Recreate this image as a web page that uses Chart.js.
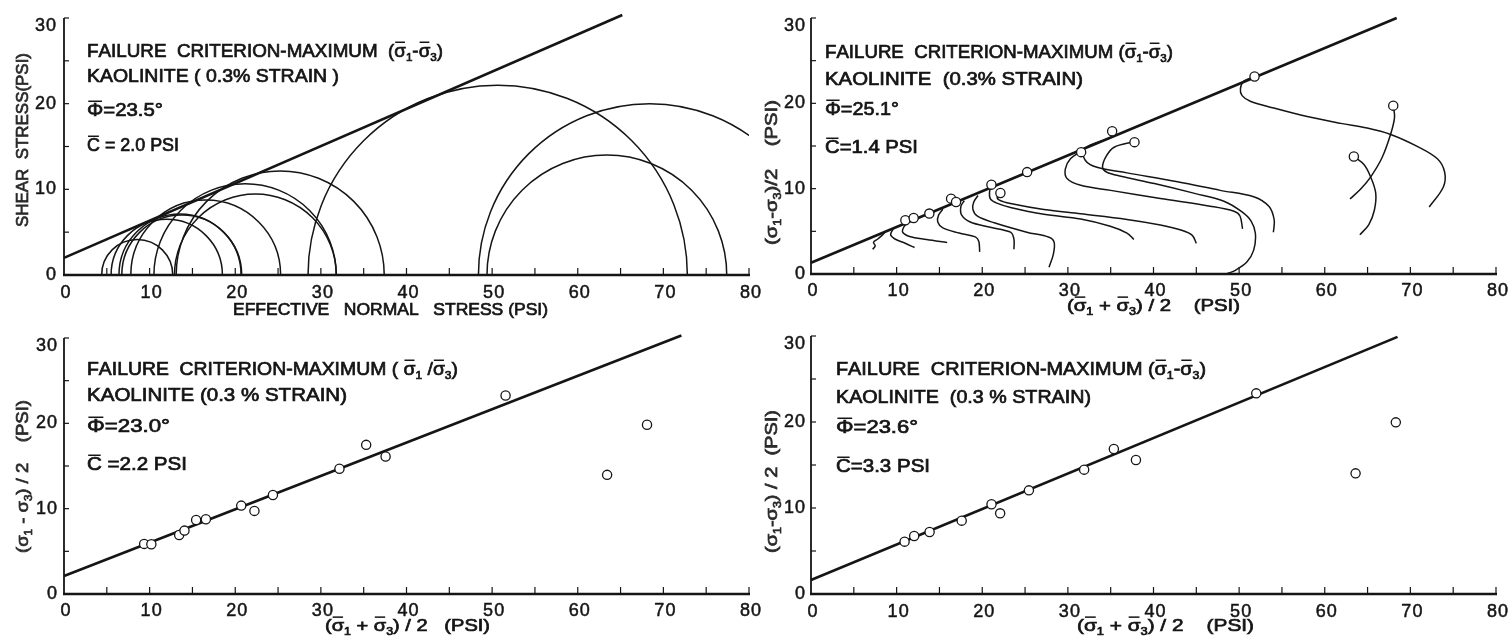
<!DOCTYPE html>
<html>
<head>
<meta charset="utf-8">
<script src="https://cdn.jsdelivr.net/npm/chart.js@4.4.1/dist/chart.umd.min.js"></script>
<style>
  html, body { margin: 0; padding: 0; background: #fff; overflow: hidden; }
  #sheet { position: relative; width: 1511px; height: 640px; overflow: hidden; }
  .panel { position: absolute; height: 320px; }
</style>
</head>
<body>
<div id="sheet">
  <div class="panel" style="left:0;top:0;width:780px"><canvas id="mohr"></canvas></div>
  <div class="panel" style="left:0;top:320px;width:780px"><canvas id="ratio"></canvas></div>
  <div class="panel" style="left:756px;top:0;width:755px"><canvas id="paths"></canvas></div>
  <div class="panel" style="left:756px;top:320px;width:755px"><canvas id="deviator"></canvas></div>
</div>
<script>
// ---- Mohr circles (effective normal stress vs shear stress) ----
const mohrCentres = [8.55, 12.0, 13.55, 13.75, 16.55, 21.15, 22.35, 25.25, 50.65, 63.4, 68.4];
const mohrRadii   = [4.15, 6.5, 7.13, 7.0, 8.75, 10.65, 9.45, 12.15, 22.15, 14.0, 20.0];
const mohrEnvelope = [[0, 2.0], [65.2, 30.35]];

// ---- stress paths, failure at maximum (s1-s3) ----
const pathFailP = [11.02, 11.99, 13.82, 16.36, 16.94, 21.07, 22.12, 25.24, 31.55, 35.17, 37.78, 51.8, 63.4, 68.0];
const pathFailQ = [6.30, 6.57, 7.08, 8.83, 8.44, 10.47, 9.49, 11.94, 14.28, 16.73, 15.45, 23.15, 13.77, 19.73];
const pathEnvelope = [[0, 1.32], [68.4, 30.0]];
const stressPaths = [
  [[7.2, 2.9], [7.5, 3.3], [7.3, 3.7], [7.8, 4.1], [8.6, 4.8]],
  [[12.1, 3.1], [11.0, 3.6], [9.8, 4.1], [9.3, 4.6], [9.6, 5.3]],
  [[15.9, 3.7], [13.5, 4.05], [11.5, 4.4], [10.7, 4.9], [10.9, 5.6], [11.4, 6.1]],
  [[19.7, 2.6], [19.6, 3.8], [19.2, 4.35], [17.3, 4.8], [15.4, 5.4], [14.8, 6.1], [14.9, 6.9], [15.4, 7.6]],
  [[23.7, 2.9], [23.7, 4.1], [23.3, 4.9], [20.8, 5.5], [18.6, 6.1], [17.6, 6.9], [17.5, 7.9], [17.9, 8.6]],
  [[27.8, 0.8], [28.3, 2.3], [28.4, 3.7], [27.8, 4.3], [25.2, 4.9], [21.4, 6.0], [19.4, 6.8], [18.9, 7.6], [19.0, 8.4], [19.5, 9.2]],
  [[21.05, 10.45], [20.85, 9.6], [20.95, 8.8], [21.7, 8.3], [23.3, 7.8], [27.2, 7.0], [31.5, 6.45], [34.95, 5.6], [36.9, 4.8], [37.7, 4.05]],
  [[22.1, 9.5], [21.75, 9.05], [22.0, 8.65], [23.3, 8.25], [27.2, 7.55], [31.5, 7.05], [36.9, 6.4], [40.8, 5.75], [43.2, 5.15], [44.5, 4.55], [45.0, 3.6]],
  [[31.5, 14.35], [30.3, 13.5], [29.7, 12.3], [29.9, 11.2], [31.5, 10.4], [35.0, 9.8], [40.8, 8.85], [46.6, 7.95], [49.4, 7.35], [50.1, 6.8], [50.4, 5.3]],
  [[34.8, 15.9], [31.9, 14.65], [32.05, 13.3], [33.4, 12.5], [36.9, 11.85], [42.8, 10.8], [47.8, 9.8], [51.7, 9.05], [53.5, 7.9], [54.1, 6.3], [54.0, 4.9]],
  [[37.7, 15.5], [35.4, 14.85], [34.45, 13.75], [34.05, 12.5], [34.5, 11.95], [36.2, 11.45], [40.1, 10.6], [44.8, 9.45], [48.3, 8.5], [50.3, 7.3], [51.4, 6.2], [51.9, 4.75], [51.7, 2.8], [50.9, 1.4], [49.5, 0.4], [48.6, 0.05]],
  [[51.8, 23.15], [50.55, 22.6], [50.15, 21.7], [50.35, 20.9], [51.3, 20.25], [54.05, 19.45], [57.95, 18.45], [61.85, 17.65], [64.95, 17.1], [67.7, 16.35], [70.8, 14.95], [73.15, 13.5], [74.0, 11.95], [73.85, 10.2], [72.2, 7.85]],
  [[68.0, 19.73], [68.15, 18.35], [67.7, 16.4], [66.7, 13.65], [65.35, 11.35], [64.2, 9.95], [62.95, 8.8]],
  [[63.4, 13.77], [64.6, 12.8], [65.35, 11.4], [65.95, 9.5], [65.8, 7.5], [65.15, 5.8], [64.1, 4.6]]
];

// ---- p-q points, failure at maximum (s1/s3) ----
const ratioP = [9.36, 10.2, 13.45, 14.07, 15.43, 16.57, 20.7, 22.24, 24.4, 32.17, 35.29, 37.56, 51.57, 63.43, 68.09];
const ratioQ = [5.87, 5.83, 6.92, 7.43, 8.68, 8.76, 10.36, 9.74, 11.6, 14.67, 17.48, 16.11, 23.27, 13.96, 19.83];
const ratioEnvelope = [[0, 2.1], [72.1, 30.3]];

// ---- p-q points, failure at maximum (s1-s3) ----
const deviatorP = [10.93, 12.05, 13.85, 17.6, 21.08, 22.09, 25.45, 31.9, 35.37, 37.95, 52.0, 63.6, 68.3];
const deviatorQ = [6.09, 6.74, 7.21, 8.53, 10.43, 9.38, 12.05, 14.46, 16.86, 15.58, 23.33, 14.03, 19.96];
const deviatorEnvelope = [[0, 1.63], [68.5, 29.9]];

const xTickLabels = [0, 10, 20, 30, 40, 50, 60, 70, 80];
const yTickLabels = [0, 10, 20, 30];

const INK = '#151515';
const FONT = '"Liberation Sans", "DejaVu Sans", sans-serif';

// '~' puts a bar over the next glyph, '_' drops the next glyph to a subscript
function drawRich(ctx, src, x, y, size, width, rotate) {
  const glyphs = [];
  for (let i = 0; i < src.length; i++) {
    let bar = false, sub = false;
    while (src[i] === '~' || src[i] === '_') {
      if (src[i] === '~') bar = true; else sub = true;
      i++;
    }
    glyphs.push({ ch: src[i], bar, sub });
  }
  let total = 0;
  glyphs.forEach(g => {
    g.size = g.sub ? size * 0.62 : size;
    ctx.font = `${g.size}px ${FONT}`;
    g.w = ctx.measureText(g.ch).width;
    total += g.w;
  });
  ctx.save();
  ctx.translate(x, y);
  if (rotate) ctx.rotate(-Math.PI / 2);
  ctx.scale(width ? width / total : 1, 1);
  ctx.textAlign = 'left';
  ctx.textBaseline = 'alphabetic';
  ctx.strokeStyle = ctx.fillStyle;
  ctx.lineWidth = 0.7;
  let cx = 0;
  glyphs.forEach(g => {
    ctx.font = `${g.size}px ${FONT}`;
    const dy = g.sub ? size * 0.24 : 0;
    ctx.fillText(g.ch, cx, dy);
    ctx.strokeText(g.ch, cx, dy);
    if (g.bar) ctx.fillRect(cx + g.w * 0.08, dy - size * 0.86, g.w * 0.84, Math.max(1.5, size * 0.08));
    cx += g.w;
  });
  ctx.restore();
}

const mohrCircles = {
  id: 'mohrCircles',
  beforeDatasetsDraw(chart, args, opts) {
    if (!opts.centres) return;
    const { ctx, chartArea: a, scales: { x, y } } = chart;
    ctx.save();
    ctx.beginPath();
    ctx.rect(a.left, a.top - 10, a.right - a.left, a.bottom - a.top + 10);
    ctx.clip();
    ctx.strokeStyle = INK;
    ctx.lineWidth = 1.5;
    opts.centres.forEach((c, i) => {
      const r = opts.radii[i];
      const cx = x.getPixelForValue(c);
      const cy = y.getPixelForValue(0);
      const rx = x.getPixelForValue(c + r) - cx;
      const ry = cy - y.getPixelForValue(r);
      ctx.beginPath();
      ctx.ellipse(cx, cy, rx, ry, 0, Math.PI, 2 * Math.PI);
      ctx.stroke();
    });
    ctx.restore();
  }
};

const paperAxes = {
  id: 'paperAxes',
  afterDraw(chart, args, opts) {
    if (!opts.notes) return;
    const { ctx, scales: { x, y } } = chart;
    const x0 = x.getPixelForValue(0), x80 = x.getPixelForValue(80);
    const y0 = y.getPixelForValue(0), y30 = y.getPixelForValue(30);
    ctx.save();
    ctx.strokeStyle = INK;
    ctx.fillStyle = INK;

    ctx.lineWidth = 2.4;
    ctx.beginPath(); ctx.moveTo(x0 - 1, y0); ctx.lineTo(x80 + 1, y0); ctx.stroke();
    ctx.lineWidth = 1.8;
    ctx.beginPath(); ctx.moveTo(x0, y0); ctx.lineTo(x0, y30); ctx.stroke();

    // short inward ticks every 5 units
    ctx.lineWidth = 1.2;
    for (let v = 5; v <= 80; v += 5) {
      const px = x.getPixelForValue(v);
      ctx.beginPath(); ctx.moveTo(px, y0); ctx.lineTo(px, y0 - 7); ctx.stroke();
    }
    for (let v = 5; v <= 30; v += 5) {
      const py = y.getPixelForValue(v);
      ctx.beginPath(); ctx.moveTo(x0, py); ctx.lineTo(x0 + 5, py); ctx.stroke();
    }

    ctx.font = `18px ${FONT}`;
    ctx.letterSpacing = '1px';
    ctx.lineWidth = 0.5;
    ctx.textAlign = 'center';
    ctx.textBaseline = 'alphabetic';
    xTickLabels.forEach(v => {
      const px = x.getPixelForValue(v) + 2;
      ctx.fillText(String(v), px, opts.xLabelBase);
      ctx.strokeText(String(v), px, opts.xLabelBase);
    });
    ctx.textAlign = 'right';
    ctx.textBaseline = 'middle';
    yTickLabels.forEach(v => {
      const py = Math.max(y.getPixelForValue(v), y30 + 8);
      ctx.fillText(String(v), opts.yLabelRight, py);
      ctx.strokeText(String(v), opts.yLabelRight, py);
    });
    ctx.letterSpacing = '0px';

    opts.notes.forEach(n => drawRich(ctx, n.text, n.x, n.y, 18, n.w, false));
    const xt = opts.xTitle;
    drawRich(ctx, xt.text, xt.x, xt.y, 17, xt.w, false);
    const yt = opts.yTitle;
    ctx.fillStyle = '#2a2a2a';
    drawRich(ctx, yt.text, yt.cx + 6, yt.bottom, 17, yt.bottom - yt.top, true);
    ctx.restore();
  }
};

Chart.register(mohrCircles, paperAxes);

const pairs = list => list.map(([x, y]) => ({ x, y }));
const points = (xs, ys) => xs.map((v, i) => ({ x: v, y: ys[i] }));

function envelopeSet(line) {
  return { data: pairs(line), showLine: true, borderColor: INK, borderWidth: 2.6, pointRadius: 0, clip: false };
}
function markerSet(xs, ys) {
  return {
    data: points(xs, ys), showLine: false, pointRadius: 4.6, pointHoverRadius: 4.6,
    pointBackgroundColor: '#fff', pointBorderColor: INK, pointBorderWidth: 1.3
  };
}
function pathSet(path) {
  return { data: pairs(path), showLine: true, tension: 0.35, borderColor: INK, borderWidth: 1.5, pointRadius: 0 };
}

function build(id, datasets, frame, extra) {
  new Chart(document.getElementById(id), {
    type: 'scatter',
    data: { datasets },
    options: {
      responsive: true,
      maintainAspectRatio: false,
      animation: false,
      events: [],
      layout: { padding: { left: 0, top: frame.top, right: frame.right, bottom: 0 } },
      scales: {
        x: {
          type: 'linear', min: 0, max: 80,
          ticks: { display: false }, grid: { display: false }, border: { display: false },
          afterFit: s => { s.height = 320 - frame.bottom; }
        },
        y: {
          type: 'linear', min: 0, max: 30,
          ticks: { display: false }, grid: { display: false }, border: { display: false },
          afterFit: s => { s.width = frame.left; }
        }
      },
      plugins: Object.assign({ legend: { display: false }, tooltip: { enabled: false } }, extra)
    }
  });
}

build('mohr', [envelopeSet(mohrEnvelope)],
  { left: 64, right: 31, top: 18, bottom: 275 },
  {
    mohrCircles: { centres: mohrCentres, radii: mohrRadii },
    paperAxes: {
      xLabelBase: 298, yLabelRight: 57,
      notes: [
        { text: 'FAILURE  CRITERION-MAXIMUM  (~σ_1-~σ_3)', x: 87, y: 57, w: 356 },
        { text: 'KAOLINITE ( 0.3% STRAIN )', x: 87, y: 82, w: 252 },
        { text: '~Φ=23.5°', x: 87, y: 116, w: 76 },
        { text: '~C = 2.0 PSI', x: 87, y: 151, w: 92 }
      ],
      xTitle: { text: 'EFFECTIVE   NORMAL   STRESS (PSI)', x: 233, y: 315, w: 315 },
      yTitle: { text: 'SHEAR  STRESS(PSI)', cx: 22, top: 53, bottom: 227 }
    }
  });

build('ratio', [markerSet(ratioP, ratioQ), envelopeSet(ratioEnvelope)],
  { left: 64, right: 31, top: 18, bottom: 274 },
  {
    paperAxes: {
      xLabelBase: 296, yLabelRight: 58,
      notes: [
        { text: 'FAILURE  CRITERION-MAXIMUM ( ~σ_1 /~σ_3)', x: 87, y: 55, w: 371 },
        { text: 'KAOLINITE (0.3 % STRAIN)', x: 87, y: 81, w: 260 },
        { text: '~Φ=23.0°', x: 87, y: 112, w: 83 },
        { text: '~C =2.2 PSI', x: 87, y: 150, w: 100 }
      ],
      xTitle: { text: '(~σ_1 + ~σ_3) / 2   (PSI)', x: 325, y: 311, w: 165 },
      yTitle: { text: '(σ_1 - σ_3) / 2    (PSI)', cx: 22, top: 80, bottom: 233 }
    }
  });

build('paths', [markerSet(pathFailP, pathFailQ), envelopeSet(pathEnvelope), ...stressPaths.map(pathSet)],
  { left: 55, right: 15, top: 18, bottom: 274 },
  {
    paperAxes: {
      xLabelBase: 296, yLabelRight: 50,
      notes: [
        { text: 'FAILURE  CRITERION-MAXIMUM (~σ_1-~σ_3)', x: 69, y: 58, w: 348 },
        { text: 'KAOLINITE  (0.3% STRAIN)', x: 69, y: 85, w: 258 },
        { text: '~Φ=25.1°', x: 69, y: 115, w: 74 },
        { text: '~C=1.4 PSI', x: 69, y: 153, w: 93 }
      ],
      xTitle: { text: '(~σ_1 + ~σ_3) / 2    (PSI)', x: 311, y: 311, w: 173 },
      yTitle: { text: '(σ_1-σ_3)/2    (PSI)', cx: 15, top: 100, bottom: 245 }
    }
  });

build('deviator', [markerSet(deviatorP, deviatorQ), envelopeSet(deviatorEnvelope)],
  { left: 55, right: 15, top: 16, bottom: 274 },
  {
    paperAxes: {
      xLabelBase: 297, yLabelRight: 50,
      notes: [
        { text: 'FAILURE  CRITERION-MAXIMUM (~σ_1-~σ_3)', x: 80, y: 55, w: 370 },
        { text: 'KAOLINITE  (0.3 % STRAIN)', x: 80, y: 83, w: 255 },
        { text: '~Φ=23.6°', x: 80, y: 113, w: 82 },
        { text: '~C=3.3 PSI', x: 80, y: 152, w: 94 }
      ],
      xTitle: { text: '(~σ_1 + ~σ_3) / 2    (PSI)', x: 321, y: 311, w: 177 },
      yTitle: { text: '(σ_1-σ_3) / 2  (PSI)', cx: 15, top: 90, bottom: 233 }
    }
  });
</script>
</body>
</html>
